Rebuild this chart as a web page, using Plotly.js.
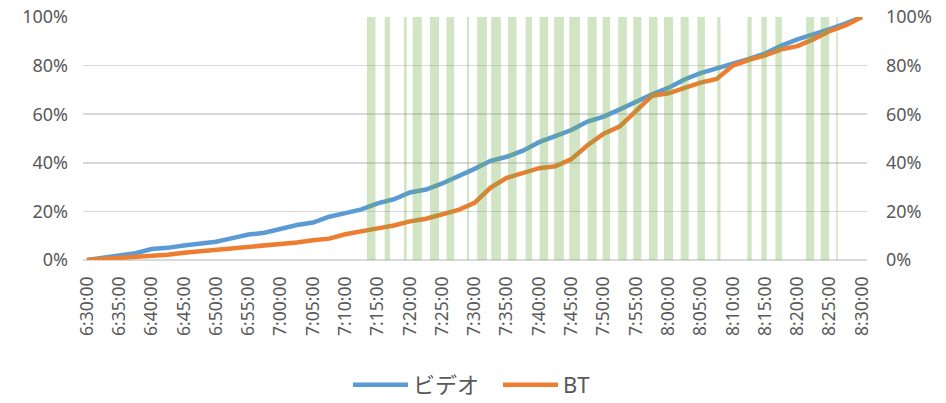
<!DOCTYPE html>
<html>
<head>
<meta charset="utf-8">
<script src="https://cdn.plot.ly/plotly-3.0.1.min.js"></script>
<style>
  html, body { margin: 0; padding: 0; background: #ffffff; }
  #chart { width: 946px; height: 403px; }
</style>
</head>
<body>
<div id="chart"></div>
<script>
// Sample times (every 2.5 minutes)
const times = [
  '6:30:00','6:32:30','6:35:00','6:37:30','6:40:00','6:42:30','6:45:00','6:47:30',
  '6:50:00','6:52:30','6:55:00','6:57:30','7:00:00','7:02:30','7:05:00','7:07:30',
  '7:10:00','7:12:30','7:15:00','7:17:30','7:20:00','7:22:30','7:25:00','7:27:30',
  '7:30:00','7:32:30','7:35:00','7:37:30','7:40:00','7:42:30','7:45:00','7:47:30',
  '7:50:00','7:52:30','7:55:00','7:57:30','8:00:00','8:02:30','8:05:00','8:07:30',
  '8:10:00','8:12:30','8:15:00','8:17:30','8:20:00','8:22:30','8:25:00','8:27:30',
  '8:30:00'
];

// Cumulative share (%) – video
const videoPct = [
  0.0, 1.0, 2.0, 2.8, 4.5, 5.0, 6.0, 6.8,
  7.5, 9.0, 10.5, 11.2, 13.0, 14.4, 15.4, 17.8,
  19.3, 20.8, 23.3, 25.0, 27.8, 29.0, 31.5, 34.3,
  37.5, 40.8, 42.5, 45.0, 48.5, 51.0, 53.5, 57.0,
  59.0, 62.0, 65.3, 68.2, 70.8, 74.3, 76.9, 78.8,
  81.0, 82.8, 85.0, 88.2, 90.8, 92.8, 95.0, 97.4,
  100.0
];

// Cumulative share (%) – BT
const btPct = [
  0.0, 0.4, 0.8, 1.1, 1.4, 2.2, 3.0, 3.6,
  4.1, 4.7, 5.2, 5.8, 6.6, 7.2, 8.1, 8.8,
  10.6, 11.6, 13.0, 14.2, 15.9, 17.0, 18.8, 20.6,
  23.5, 29.8, 33.8, 35.6, 37.8, 38.6, 41.5, 47.2,
  52.0, 55.0, 61.0, 67.6, 68.6, 70.8, 73.0, 74.5,
  80.0, 82.4, 84.2, 86.7, 88.0, 90.9, 94.2, 96.6,
  100.0
];

// Highlighted intervals (start / end)
const bandStart = [
  '7:13:20','7:16:05','7:19:05','7:20:25','7:23:05','7:25:40','7:28:50','7:30:25',
  '7:32:35','7:35:10','7:37:55','7:40:05','7:42:20','7:44:40','7:47:30','7:49:50',
  '7:52:15','7:54:35','7:57:00','7:59:20','8:01:55','8:04:30','8:07:35','8:12:15',
  '8:14:25','8:16:35','8:21:20','8:23:35','8:26:00'
];
const bandEnd = [
  '7:14:40','7:16:55','7:19:30','7:21:50','7:24:30','7:26:50','7:29:10','7:31:55',
  '7:34:05','7:36:30','7:38:55','7:41:25','7:43:50','7:46:20','7:48:55','7:51:00',
  '7:53:35','7:55:50','7:58:20','8:00:45','8:03:10','8:05:40','8:08:05','8:12:55',
  '8:15:15','8:17:35','8:22:35','8:24:55','8:26:15'
];

const DAY = '2024-01-01';
function toMs(t) {
  const p = t.split(':').map(Number);
  return Date.UTC(2024, 0, 1, p[0], p[1], p[2]);
}
function toDate(t) {
  const p = t.split(':');
  return DAY + ' ' + p[0].padStart(2, '0') + ':' + p[1] + ':' + p[2];
}
function msToDate(ms) {
  return new Date(ms).toISOString().replace('T', ' ').replace('Z', '');
}

const xs = times.map(toDate);
const bandMid = bandStart.map((s, i) => msToDate((toMs(s) + toMs(bandEnd[i])) / 2));
const bandWidth = bandStart.map((s, i) => toMs(bandEnd[i]) - toMs(s));
const bandHeight = bandStart.map(() => 100);

const textColor = '#595959';
const fontFamily = '"Noto Sans", "Noto Sans CJK JP", sans-serif';

const traces = [
  {
    type: 'scatter', mode: 'lines', name: 'ビデオ',
    x: xs, y: videoPct,
    line: { color: '#5B9BD5', width: 4.5 },
    hoverinfo: 'skip'
  },
  {
    type: 'scatter', mode: 'lines', name: 'BT',
    x: xs, y: btPct,
    line: { color: '#ED7D31', width: 4.5 },
    hoverinfo: 'skip'
  },
  {
    type: 'bar', name: 'band', showlegend: false,
    x: bandMid, y: bandHeight, width: bandWidth, base: 0,
    yaxis: 'y2',
    marker: { color: 'rgba(112,173,71,0.32)', line: { width: 0 } },
    hoverinfo: 'skip'
  }
];

const layout = {
  width: 946, height: 403,
  margin: { l: 83, r: 79, t: 17, b: 143, pad: 0 },
  paper_bgcolor: '#ffffff', plot_bgcolor: '#ffffff',
  font: { family: fontFamily, color: textColor, size: 16 },
  showlegend: true,
  legend: {
    orientation: 'h',
    xref: 'container', x: 0.5264, xanchor: 'center',
    yref: 'container', y: 0.045, yanchor: 'middle',
    font: { size: 22, color: textColor },
    itemwidth: 55, entrywidth: 80, traceorder: 'normal'
  },
  xaxis: {
    type: 'date',
    range: [DAY + ' 06:29:23', DAY + ' 08:30:46'],
    tick0: DAY + ' 06:30:00', dtick: 300000,
    tickformat: '%-H:%M:%S', tickangle: -90,
    ticks: '', ticklabelstandoff: 12,
    showgrid: false, zeroline: false,
    showline: false,
    tickfont: { size: 17.5, color: textColor },
    fixedrange: true
  },
  yaxis: {
    range: [0, 100], dtick: 20, ticksuffix: '%',
    showgrid: true, gridcolor: '#d9d9d9', gridwidth: 1.5,
    zeroline: true, zerolinecolor: '#d9d9d9', zerolinewidth: 1.5,
    ticks: '', ticklabelstandoff: 14,
    tickfont: { size: 18, color: textColor },
    fixedrange: true
  },
  yaxis2: {
    overlaying: 'y', side: 'right',
    range: [0, 100], dtick: 20, ticksuffix: '%',
    showgrid: false, zeroline: false,
    ticks: '', ticklabelstandoff: 18,
    tickfont: { size: 18, color: textColor },
    fixedrange: true
  },
  hovermode: false
};

Plotly.newPlot('chart', traces, layout, { displayModeBar: false, staticPlot: true });
</script>
</body>
</html>
